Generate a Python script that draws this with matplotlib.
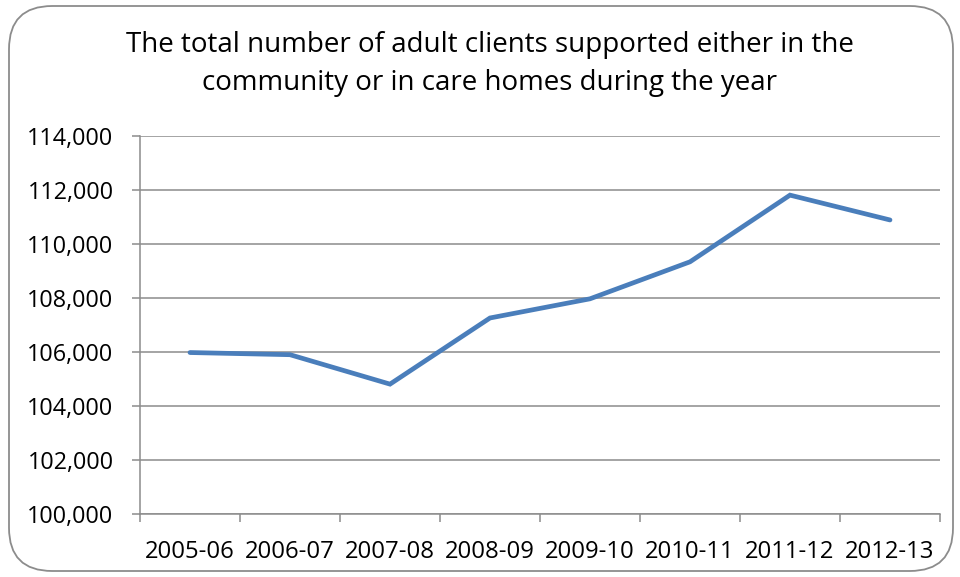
import matplotlib.pyplot as plt
from matplotlib.patches import FancyBboxPatch
from matplotlib.ticker import FixedLocator, FuncFormatter

# Data
years = ["2005-06", "2006-07", "2007-08", "2008-09", "2009-10", "2010-11", "2011-12", "2012-13"]
clients = [105980, 105900, 104810, 107260, 107970, 109340, 111810, 110890]

plt.rcParams['font.family'] = ['Open Sans', 'DejaVu Sans']

fig = plt.figure(figsize=(9.6, 5.77), dpi=100)

# Rounded chart border
border = FancyBboxPatch((9 / 960, 6 / 577), 944 / 960, 565 / 577,
                        boxstyle="round,pad=0,rounding_size=0.045",
                        transform=fig.transFigure, facecolor="none",
                        edgecolor="#8c8c8c", linewidth=1.3, zorder=-1,
                        mutation_aspect=960 / 577)
fig.patches.append(border)

ax = fig.add_axes([140 / 960, 63 / 577, 800 / 960, 378 / 577])
ax.set_facecolor("none")

x = list(range(len(years)))
ax.plot(x, clients, color="#4A7EBB", linewidth=3.4, solid_capstyle="round",
        solid_joinstyle="miter", zorder=3)

ax.set_xlim(-0.5, len(years) - 0.5)
ax.set_ylim(100000, 114000)
ax.set_yticks(range(100000, 114001, 2000))
ax.yaxis.set_major_formatter(FuncFormatter(lambda v, p: f"{int(v):,}"))
ax.grid(axis="y", color="#8c8c8c", linewidth=1.1, zorder=1)

# Category boundary ticks, labels at the centers
ax.xaxis.set_major_locator(FixedLocator([i - 0.5 for i in range(len(years) + 1)]))
ax.xaxis.set_major_formatter(FuncFormatter(lambda v, p: ""))
ax.xaxis.set_minor_locator(FixedLocator(x))
ax.set_xticklabels(years, minor=True)
ax.tick_params(axis="x", which="major", length=6, width=1.1, color="#8c8c8c", direction="out")
ax.tick_params(axis="x", which="minor", length=0, pad=19, labelsize=17.2)
ax.tick_params(axis="y", length=6, width=1.1, color="#8c8c8c", pad=13, labelsize=16.8)

for s in ["top", "right"]:
    ax.spines[s].set_visible(False)
for s in ["left", "bottom"]:
    ax.spines[s].set_color("#8c8c8c")
    ax.spines[s].set_linewidth(1.1)

fig.text(490 / 960, 1 - 64 / 577,
         "The total number of adult clients supported either in the\ncommunity or in care homes during the year",
         ha="center", va="center", fontsize=20, linespacing=1.5)

fig.savefig("out.png", dpi=100)
